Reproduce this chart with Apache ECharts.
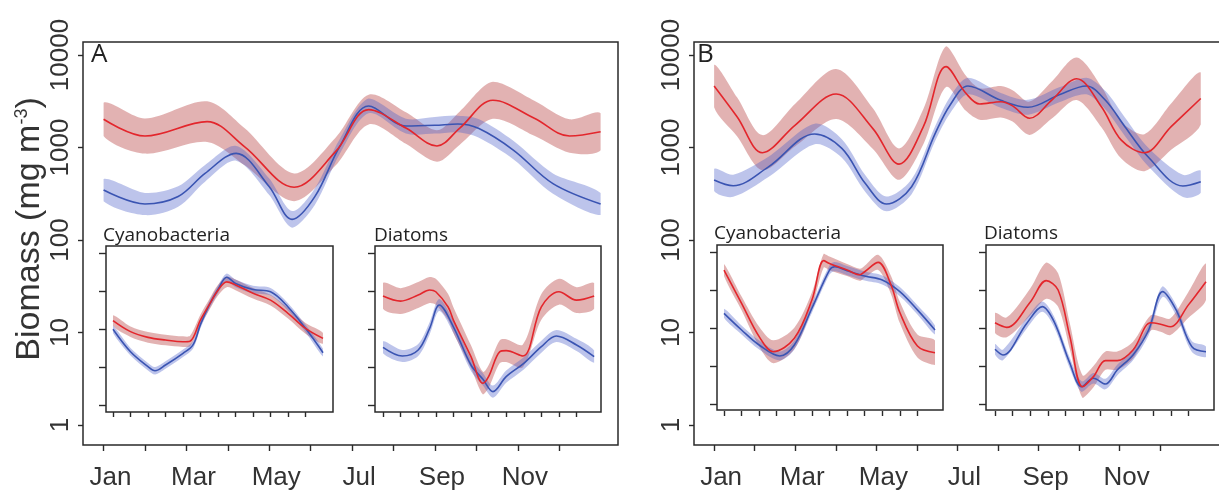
<!DOCTYPE html>
<html>
<head>
<meta charset="utf-8">
<script src="https://cdn.jsdelivr.net/npm/echarts@6/dist/echarts.min.js"></script>
<style>
  html, body { margin: 0; padding: 0; background: #fff; }
  #chart { width: 1219px; height: 492px; }
</style>
</head>
<body>
<div id="chart"></div>
<script>
// ---- axis ticks and labels ----
const monthTicks = [0, 1, 2, 3, 4, 5, 6, 7, 8, 9, 10, 11];
const monthLabelPos = [0, 2, 4, 6, 8, 10];
const monthLabels = ['Jan', 'Mar', 'May', 'Jul', 'Sep', 'Nov'];
const yTitle = 'Biomass (mg m{sup|-3})';
const panelLetters = ['A', 'B'];
const insetTitles = ['Cyanobacteria', 'Diatoms'];

// ---- panel A, total biomass (month, fitted mean, lower and upper band) ----
const aRedMonths = [0, 1.0, 2.5, 3.4, 4.6, 5.6, 6.4, 7.3, 8.05, 8.6, 9.4, 10.4, 11.25, 12];
const aRedMid = [2018, 1330, 1905, 1023, 372, 902, 2570, 1622, 1038, 1622, 3236, 2070, 1330, 1479];
const aRedHi = [3055, 2061, 3162, 1622, 525, 1274, 3715, 2399, 1535, 2455, 5129, 3206, 2014, 2344];
const aRedLo = [1334, 859, 1148, 646, 263, 638, 1778, 1096, 701, 1072, 2042, 1337, 879, 933];

const aBlueMonths = [0, 1.0, 1.8, 2.45, 3.2, 4.0, 4.55, 5.1, 5.7, 6.4, 7.3, 8.0, 8.55, 9.05, 9.9, 10.85, 12];
const aBlueMid = [347, 245, 295, 525, 865, 377, 167, 294, 1021, 2812, 1706, 1738, 1795, 1611, 933, 407, 245];
const aBlueHi = [457, 323, 380, 646, 1040, 463, 206, 361, 1227, 3381, 2051, 2138, 2208, 2028, 1175, 525, 323];
const aBlueLo = [263, 186, 229, 427, 719, 306, 136, 239, 849, 2339, 1419, 1413, 1459, 1279, 741, 316, 186];

// ---- panel B, total biomass ----
const bRedMonths = [0, 0.57, 1.19, 2.0, 3.01, 3.91, 4.56, 5.16, 5.72, 6.21, 6.55, 7.07, 7.36, 7.78, 8.32, 8.94, 9.55, 10.04, 10.61, 11.27, 12];
const bRedMid = [4624, 2138, 879, 1750, 3784, 1611, 661, 1679, 7482, 3855, 2951, 3126, 2818, 2070, 3236, 5546, 2754, 1202, 879, 1679, 3388];
const bRedHi = [7852, 3467, 1361, 2972, 7047, 2673, 977, 2600, 12416, 5970, 4365, 4624, 4169, 3133, 5129, 9419, 4571, 1905, 1393, 2985, 6457];
const bRedLo = [2723, 1318, 568, 1030, 2032, 971, 447, 1084, 4508, 2489, 1995, 2113, 1905, 1368, 2042, 3266, 1660, 759, 555, 944, 1778];

const bBlueMonths = [0, 0.47, 1.34, 2.48, 3.15, 3.73, 4.25, 4.87, 5.45, 5.82, 6.26, 7.07, 7.74, 8.51, 9.18, 9.65, 10.13, 10.7, 11.56, 12];
const bBlueMid = [446, 386, 617, 1400, 977, 407, 245, 377, 1413, 2884, 4624, 3236, 2723, 3715, 4624, 3236, 1679, 794, 384, 427];
const bBlueHi = [587, 509, 794, 1803, 1230, 501, 295, 453, 1698, 3548, 5689, 3890, 3273, 4467, 5689, 4074, 2113, 1000, 506, 562];
const bBlueLo = [338, 293, 479, 1086, 776, 331, 204, 313, 1175, 2344, 3758, 2692, 2265, 3090, 3758, 2570, 1334, 631, 291, 324];

// ---- panel A insets ----
const aCyRedMonths = [0, 1, 2, 3, 4, 4.4, 5, 5.5, 6, 6.5, 7, 8, 9, 10, 11, 12];
const aCyRedMid = [12.9, 9.23, 7.76, 7.16, 6.81, 6.92, 13.2, 20.9, 32.4, 41.7, 38.0, 29.5, 24.0, 16.1, 10.2, 7.53];
const aCyRedHi = [15.2, 10.8, 9.12, 8.41, 8.0, 8.13, 15.5, 24.6, 38.1, 49.0, 44.7, 34.7, 28.2, 18.9, 12.0, 8.85];
const aCyRedLo = [11.0, 7.85, 6.60, 6.09, 5.80, 5.89, 11.2, 17.8, 27.6, 35.5, 32.3, 25.1, 20.4, 13.7, 8.68, 6.41];

const aCyBlueMonths = [0, 1, 2, 2.4, 3, 4, 4.57, 5, 5.5, 6, 6.5, 7, 8, 9, 10, 11, 12];
const aCyBlueMid = [9.91, 5.01, 3.19, 2.82, 3.36, 4.79, 6.17, 11.5, 20.7, 33.1, 47.9, 39.8, 33.1, 30.9, 19.5, 10.2, 4.88];
const aCyBlueHi = [11.1, 5.62, 3.58, 3.16, 3.77, 5.37, 6.92, 12.9, 23.2, 37.1, 53.7, 44.7, 37.1, 34.7, 21.9, 11.4, 5.48];
const aCyBlueLo = [8.83, 4.47, 2.84, 2.51, 2.99, 4.27, 5.50, 10.2, 18.4, 29.5, 42.7, 35.5, 29.5, 27.5, 17.4, 9.09, 4.35];

const aDiRedMonths = [0, 1, 2, 2.65, 3, 3.7, 4, 5, 5.68, 6, 6.63, 7, 7.95, 9, 10, 11, 12];
const aDiRedMid = [27.2, 23.3, 28.0, 32.6, 30.9, 19.5, 13.1, 4.33, 1.93, 2.36, 5.01, 5.19, 4.42, 19.5, 30.9, 24.0, 27.2];
const aDiRedHi = [40.2, 34.5, 41.4, 48.2, 45.7, 28.8, 19.4, 6.12, 2.73, 3.33, 7.08, 7.33, 6.25, 28.8, 45.7, 35.5, 40.2];
const aDiRedLo = [18.4, 15.8, 18.9, 22.0, 20.9, 13.2, 8.86, 3.06, 1.37, 1.67, 3.55, 3.67, 3.13, 13.2, 20.9, 16.2, 18.4];

const aDiBlueMonths = [0, 1.1, 2, 2.65, 3.2, 4, 5, 5.68, 6.25, 7, 8, 9, 9.85, 11, 12];
const aDiBlueMid = [5.74, 4.42, 5.30, 10.2, 20.7, 10.7, 3.36, 2.18, 1.50, 2.36, 3.53, 5.85, 8.09, 6.17, 4.33];
const aDiBlueHi = [6.90, 5.31, 6.37, 12.3, 24.9, 12.9, 4.04, 2.62, 1.80, 2.84, 4.24, 7.03, 9.72, 7.42, 5.20];
const aDiBlueLo = [4.78, 3.68, 4.41, 8.49, 17.2, 8.90, 2.80, 1.81, 1.25, 1.96, 2.94, 4.87, 6.73, 5.13, 3.60];

// ---- panel B insets ----
const bCyRedMonths = [0, 1, 2, 2.8, 4, 5, 5.67, 6, 7, 7.72, 8, 8.77, 9.5, 10, 11, 12];
const bCyRedMid = [57.9, 21.1, 7.69, 4.88, 7.31, 23.3, 76.9, 70.8, 57.9, 50.1, 55.0, 73.1, 36.8, 16.0, 5.8, 4.73];
const bCyRedHi = [69.6, 26.0, 10.4, 6.89, 10.1, 29.3, 94.6, 87.1, 69.6, 60.2, 66.1, 92.0, 48.5, 22.1, 8.2, 6.84];
const bCyRedLo = [48.2, 17.1, 5.70, 3.45, 5.29, 18.5, 62.5, 57.5, 48.2, 41.7, 45.7, 58.1, 27.9, 11.6, 4.1, 3.27];

const bCyBlueMonths = [0, 1, 2, 3.17, 4, 5, 6, 6.3, 7, 8, 9, 10, 11, 12];
const bCyBlueMid = [15.6, 9.42, 5.97, 4.29, 5.97, 18.2, 57.9, 64.1, 56.8, 48.3, 42.9, 30.1, 17.3, 9.42];
const bCyBlueHi = [17.9, 10.8, 6.85, 4.92, 6.85, 20.9, 66.5, 73.6, 65.2, 55.4, 49.2, 34.6, 19.9, 10.8];
const bCyBlueLo = [13.6, 8.21, 5.20, 3.74, 5.20, 15.9, 50.4, 55.8, 49.5, 42.1, 37.4, 26.2, 15.1, 8.21];

const bDiRedMonths = [0, 0.67, 2.02, 2.91, 3.59, 4.26, 4.98, 5.6, 6.28, 6.95, 7.85, 8.86, 9.42, 9.98, 10.99, 12];
const bDiRedMid = [11.7, 10.2, 22.2, 42.0, 31.6, 7.69, 1.69, 2.29, 3.72, 3.72, 5.13, 11.7, 11.2, 10.4, 20.0, 40.7];
const bDiRedHi = [15.8, 13.8, 33.6, 73.0, 52.5, 11.4, 2.39, 3.16, 4.90, 4.90, 6.61, 14.7, 14.1, 13.4, 29.6, 70.7];
const bDiRedLo = [8.67, 7.56, 14.7, 24.2, 19.0, 5.20, 1.20, 1.66, 2.82, 2.82, 3.98, 9.29, 8.90, 8.07, 13.5, 23.4];

const bDiBlueMonths = [0, 0.45, 1.8, 2.69, 3.36, 4.26, 4.93, 5.6, 6.28, 6.95, 7.85, 8.74, 9.53, 10.3, 11.2, 12];
const bDiBlueMid = [5.25, 4.42, 11.5, 19.1, 12.1, 3.43, 1.69, 2.18, 1.83, 2.80, 4.42, 9.42, 30.1, 17.3, 5.68, 4.88];
const bDiBlueHi = [6.17, 5.19, 13.5, 22.4, 14.2, 4.03, 1.99, 2.56, 2.15, 3.29, 5.19, 11.1, 35.4, 20.3, 6.67, 5.73];
const bDiBlueLo = [4.47, 3.76, 9.79, 16.3, 10.3, 2.92, 1.44, 1.86, 1.56, 2.38, 3.76, 8.02, 25.6, 14.7, 4.83, 4.15];

// ---- styling ----
const RED = '#e3262c';
const BLUE = '#3a54b2';
const RED_BAND = 'rgba(185, 72, 72, 0.42)';
const BLUE_BAND = 'rgba(72, 92, 200, 0.36)';
const INK = '#2a2a2a';
const AXIS_FONT = '"Liberation Sans", Arial, sans-serif';
const NOTE_FONT = '"Open Sans", "Noto Sans", sans-serif';

// Plot areas span the full frame width (month axis padded on both sides);
// vertically they span 1..10000 (main) or 1..100 (insets, half-decade ticks).
const grids = [
  { left: 83, top: 55, width: 535, height: 370 },    // A main
  { left: 694, top: 55, width: 535, height: 370 },   // B main
  { left: 106, top: 253, width: 227, height: 152 },  // A cyanobacteria
  { left: 375, top: 253, width: 226, height: 152 },  // A diatoms
  { left: 717, top: 252, width: 226, height: 152 },  // B cyanobacteria
  { left: 986, top: 252, width: 228, height: 152 }   // B diatoms
];
const monthRanges = [
  [-0.497, 12.42], [-0.496, 12.45],
  [-0.40, 12.57], [-0.455, 12.39], [-0.398, 12.455], [-0.512, 12.455]
];
const xAxisDrop = [20, 20, 7, 7, 7, 7];
// Frames drawn around each plot area
const frames = [
  { x: 83, y: 42, width: 535, height: 403 },
  { x: 694, y: 42, width: 545, height: 403 },
  { x: 106, y: 246, width: 227, height: 166 },
  { x: 375, y: 246, width: 226, height: 166 },
  { x: 717, y: 245, width: 226, height: 165 },
  { x: 986, y: 245, width: 228, height: 165 }
];

const isMain = i => i < 2;

const xAxes = grids.map((g, i) => ({
  type: 'value', gridIndex: i, min: monthRanges[i][0], max: monthRanges[i][1],
  position: 'bottom', offset: xAxisDrop[i],
  axisLine: { show: false, onZero: false },
  splitLine: { show: false },
  axisTick: {
    customValues: monthTicks, length: isMain(i) ? 6 : 5, inside: false,
    lineStyle: { color: INK, width: 1.4 }
  },
  axisLabel: isMain(i) ? {
    customValues: monthLabelPos,
    formatter: v => monthLabels[monthLabelPos.indexOf(Math.round(v))] || '',
    fontFamily: AXIS_FONT, fontSize: 26, color: '#333', margin: 20,
    padding: [0, 0, 0, 14]
  } : { show: false }
}));

const yAxes = grids.map((g, i) => {
  const base = {
    type: 'log', gridIndex: i, position: 'left',
    axisLine: { show: false, onZero: false },
    splitLine: { show: false },
    axisTick: { length: isMain(i) ? 5 : 7, inside: false, lineStyle: { color: INK, width: 1.4 } }
  };
  if (isMain(i)) {
    return Object.assign(base, {
      logBase: 10, min: 1, max: 10000,
      axisLabel: {
        rotate: 90, fontFamily: AXIS_FONT, fontSize: 26, color: '#333', margin: 9,
        formatter: v => String(Math.round(v))
      },
      name: i === 0 ? yTitle : '',
      nameLocation: 'middle', nameRotate: 90, nameGap: 36,
      nameTextStyle: {
        fontFamily: AXIS_FONT, fontSize: 34, color: '#333', padding: [0, 0, 0, 22],
        rich: { sup: { fontFamily: AXIS_FONT, fontSize: 18, color: '#333', verticalAlign: 'top', lineHeight: 20 } }
      }
    });
  }
  return Object.assign(base, {
    logBase: Math.sqrt(10), min: 1, max: 100,
    axisLabel: { show: false }
  });
});

function bandSeries(axisIndex, xs, lo, hi, fill) {
  return {
    type: 'custom', xAxisIndex: axisIndex, yAxisIndex: axisIndex,
    data: [[xs[0], lo[0]]], silent: true, z: 1,
    renderItem(params, api) {
      const pts = xs.map((x, k) => api.coord([x, hi[k]]));
      for (let k = xs.length - 1; k >= 0; k--) pts.push(api.coord([xs[k], lo[k]]));
      // keep the smoothed outline inside the band's own bounding box
      let x0 = Infinity, y0 = Infinity, x1 = -Infinity, y1 = -Infinity;
      pts.forEach(p => {
        x0 = Math.min(x0, p[0]); y0 = Math.min(y0, p[1]);
        x1 = Math.max(x1, p[0]); y1 = Math.max(y1, p[1]);
      });
      return {
        type: 'polygon',
        shape: { points: pts, smooth: 0.3, smoothConstraint: [[x0, y0], [x1, y1]] },
        style: { fill: fill }
      };
    }
  };
}

function lineSeries(axisIndex, xs, mid, color) {
  return {
    type: 'line', xAxisIndex: axisIndex, yAxisIndex: axisIndex,
    data: xs.map((x, k) => [x, mid[k]]),
    smooth: 0.35, symbol: 'none', clip: false, silent: true, z: 3,
    lineStyle: { color: color, width: 1.6 }
  };
}

const curvesRed = [
  [0, aRedMonths, aRedMid, aRedLo, aRedHi],
  [1, bRedMonths, bRedMid, bRedLo, bRedHi],
  [2, aCyRedMonths, aCyRedMid, aCyRedLo, aCyRedHi],
  [3, aDiRedMonths, aDiRedMid, aDiRedLo, aDiRedHi],
  [4, bCyRedMonths, bCyRedMid, bCyRedLo, bCyRedHi],
  [5, bDiRedMonths, bDiRedMid, bDiRedLo, bDiRedHi]
];
const curvesBlue = [
  [0, aBlueMonths, aBlueMid, aBlueLo, aBlueHi],
  [1, bBlueMonths, bBlueMid, bBlueLo, bBlueHi],
  [2, aCyBlueMonths, aCyBlueMid, aCyBlueLo, aCyBlueHi],
  [3, aDiBlueMonths, aDiBlueMid, aDiBlueLo, aDiBlueHi],
  [4, bCyBlueMonths, bCyBlueMid, bCyBlueLo, bCyBlueHi],
  [5, bDiBlueMonths, bDiBlueMid, bDiBlueLo, bDiBlueHi]
];

const series = [];
curvesRed.forEach(c => series.push(bandSeries(c[0], c[1], c[3], c[4], RED_BAND)));
curvesBlue.forEach(c => series.push(bandSeries(c[0], c[1], c[3], c[4], BLUE_BAND)));
curvesBlue.forEach(c => series.push(lineSeries(c[0], c[1], c[2], BLUE)));
curvesRed.forEach(c => series.push(lineSeries(c[0], c[1], c[2], RED)));

const graphics = frames.map((f, i) => ({
  type: 'rect', z: isMain(i) ? 0 : 5, silent: true,
  shape: { x: f.x, y: f.y, width: f.width, height: f.height },
  style: { fill: 'none', stroke: INK, lineWidth: 1.5 }
}));
graphics.push(
  { type: 'text', x: 91, y: 42, silent: true, style: { text: panelLetters[0], font: '26px ' + NOTE_FONT, fill: '#222' } },
  { type: 'text', x: 697, y: 42, silent: true, style: { text: panelLetters[1], font: '26px ' + NOTE_FONT, fill: '#222' } },
  { type: 'text', x: 103, y: 226, silent: true, style: { text: insetTitles[0], font: '19px ' + NOTE_FONT, fill: '#222' } },
  { type: 'text', x: 374, y: 226, silent: true, style: { text: insetTitles[1], font: '19px ' + NOTE_FONT, fill: '#222' } },
  { type: 'text', x: 714, y: 224, silent: true, style: { text: insetTitles[0], font: '19px ' + NOTE_FONT, fill: '#222' } },
  { type: 'text', x: 984, y: 224, silent: true, style: { text: insetTitles[1], font: '19px ' + NOTE_FONT, fill: '#222' } }
);

const chart = echarts.init(document.getElementById('chart'), null, { renderer: 'canvas' });
chart.setOption({
  animation: false,
  backgroundColor: '#fff',
  grid: grids,
  xAxis: xAxes,
  yAxis: yAxes,
  series: series,
  graphic: graphics
});
</script>
</body>
</html>
